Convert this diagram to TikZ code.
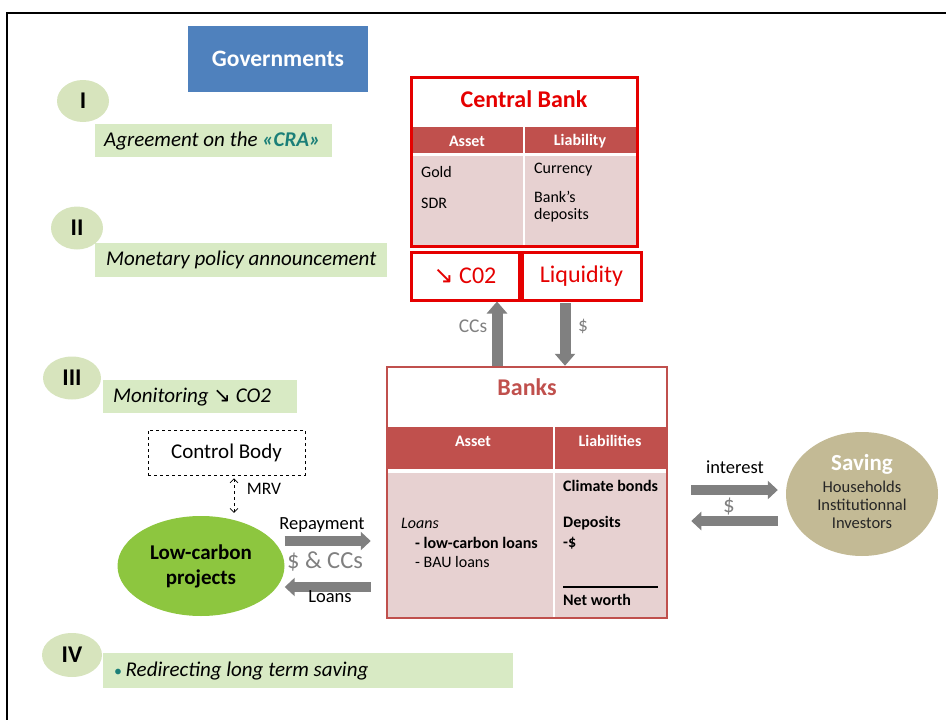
\documentclass[tikz,border=0pt]{standalone}
\usepackage{fontspec}
\setmainfont{Carlito}
\newfontfamily\symfont{DejaVu Sans}
\usetikzlibrary{arrows.meta,shapes.geometric}
\definecolor{govblue}{HTML}{4F81BD}
\definecolor{circgreen}{HTML}{D7E4BD}
\definecolor{boxgreen}{HTML}{D8EAC4}
\definecolor{tabred}{HTML}{C0504D}
\definecolor{tabpink}{HTML}{E7D1D1}
\definecolor{cbred}{HTML}{E50000}
\definecolor{arrgray}{HTML}{808080}
\definecolor{lcgreen}{HTML}{8DC63F}
\definecolor{savtan}{HTML}{C3BA95}
\definecolor{cratxt}{HTML}{1B7F78}
\newcommand\fsz[2]{\fontsize{#1}{#2}\selectfont}
\newcommand\dnarrow{{\symfont\char"2198}}
\begin{document}
\begin{tikzpicture}[x=1pt,y=-1pt,
  stagecirc/.style={ellipse, fill=circgreen, inner sep=0pt, font=\bfseries\fsz{24}{26}},
  stagebox/.style={fill=boxgreen, inner sep=0pt, anchor=north west},
  stagetxt/.style={anchor=west, inner sep=0pt, font=\itshape\fsz{21}{23}},
  redbox/.style={draw=cbred, line width=3pt, fill=white, inner sep=0pt, text=cbred, font=\fsz{24}{26}},
  headtxt/.style={text=white, font=\bfseries\fsz{16}{18}},
  bodytxt/.style={anchor=west, inner sep=0pt, font=\fsz{16}{18}},
  btxt/.style={anchor=west, inner sep=0pt, font=\bfseries\fsz{16}{18}},
  graylab/.style={text=arrgray, font=\fsz{19.5}{21}},
  blacklab/.style={font=\fsz{18.5}{20}},
  garrowv/.style={draw=arrgray, line width=11pt, -{Triangle[length=12pt,width=20pt]}},
  garrowh/.style={draw=arrgray, line width=10pt, -{Triangle[length=10pt,width=18pt]}}
]
\useasboundingbox (0,0) rectangle (946,720);
\draw[line width=2pt] (7,720) -- (7,13) -- (946,13);

% Governments
\node[fill=govblue, minimum width=180pt, minimum height=66pt, inner sep=0pt, text=white, font=\bfseries\fsz{23.5}{26}] (gov) at (278,59) {Governments};

% Stages
\node[stagebox, minimum width=237pt, minimum height=33pt] (s1) at (95,124) {};
\node[stagetxt] (s1t) at ([xshift=9pt]s1.west) {Agreement on the {\color{cratxt}\bfseries «CRA»}};
\node[stagecirc, minimum width=52pt, minimum height=42pt] (e1) at (83,101) {I};

\node[stagebox, minimum width=292pt, minimum height=34pt] (s2) at (95,243) {};
\node[stagetxt] (s2t) at ([xshift=11pt]s2.west) {Monetary policy announcement};
\node[stagecirc, minimum width=52pt, minimum height=43pt] (e2) at (77,228) {II};

\node[stagebox, minimum width=194pt, minimum height=33pt] (s3) at (103,380) {};
\node[stagetxt] (s3t) at ([xshift=10pt]s3.west) {Monitoring \dnarrow{} CO2};
\node[stagecirc, minimum width=58pt, minimum height=43pt] (e3) at (72,378) {III};

\node[stagebox, minimum width=410pt, minimum height=35pt] (s4) at (103,653) {};
\node[stagetxt] (s4t) at ([xshift=11pt]s4.west) {{\color{cratxt}\upshape\fsz{16}{18}\textbullet}\,Redirecting long term saving};
\node[stagecirc, minimum width=60pt, minimum height=44pt] (e4) at (72,655) {IV};

% Central Bank
\fill[tabred] (411,127) rectangle (637,153);
\fill[tabpink] (411,156) rectangle (637,246);
\draw[white, line width=1.5pt] (524,127) -- (524,246);
\node[draw=cbred, line width=3pt, inner sep=0pt, minimum width=226pt, minimum height=169pt] (cb) at (524,161.5) {};
\node[text=cbred, font=\bfseries\fsz{24}{26}] (cbt) at (524,99) {Central Bank};
\node[headtxt] (cbh1) at (467,141) {Asset};
\node[headtxt] (cbh2) at (580,141) {Liability};
\node[bodytxt] (gold) at (421,172) {Gold};
\node[bodytxt] (sdr) at (421,203) {SDR};
\node[bodytxt] (cur) at (534,170) {Currency};
\node[bodytxt] (bkd) at (534,197) {Bank’s};
\node[bodytxt] (dep) at (534,215) {deposits};

\node[redbox, minimum width=108pt, minimum height=48pt] (co2) at (465,276) {\dnarrow{} C02};
\node[redbox, minimum width=119pt, minimum height=48pt] (liq) at (581.5,276) {Liquidity};

% Banks
\fill[tabred] (387,427) rectangle (667,469);
\fill[tabpink] (387,473) rectangle (667,617);
\draw[white, line width=1.5pt] (554,427) -- (554,617);
\node[draw=tabred, line width=2.5pt, inner sep=0pt, minimum width=280pt, minimum height=251pt] (banks) at (527,492.5) {};
\node[text=tabred, font=\bfseries\fsz{24}{26}] (bkt) at (527,387) {Banks};
\node[headtxt] (bh1) at (473,441) {Asset};
\node[headtxt] (bh2) at (610,441) {Liabilities};
\node[btxt] (cbonds) at (563,486) {Climate bonds};
\node[btxt] (bdep) at (563,523) {Deposits};
\node[btxt] (bdol) at (563,543) {-\$};
\draw[line width=1.2pt] (563,587) -- (658,587);
\node[btxt] (nw) at (563,600) {Net worth};
\node[bodytxt, font=\itshape\fsz{16}{18}] (loans) at (401,523) {Loans};
\node[btxt] (lcl) at (415,543) {- low-carbon loans};
\node[bodytxt] (bau) at (415,562) {- BAU loans};

% arrows between CB and Banks
\coordinate (xccs) at (497,0);
\coordinate (xdol) at (565,0);
\draw[garrowv] (banks.north -| xccs) -- (co2.south -| xccs);
\draw[garrowv, shorten <=1.5pt] (liq.south -| xdol) -- (banks.north -| xdol);
\node[graylab] (ccsl) at (473,326) {CCs};
\node[graylab] (doll) at (583,326) {\$};

% Control body & projects
\node[draw, dashed, line width=0.8pt, inner sep=0pt, minimum width=157pt, minimum height=45pt, font=\fsz{21}{23}] (ctrl) at (226.5,452.5) {Control Body};
\node[ellipse, fill=lcgreen, inner sep=0pt, minimum width=167pt, minimum height=100pt, align=center, font=\bfseries\fsz{21}{25}] (lcp) at (201,566) {Low-carbon\\projects};
\coordinate (xmrv) at (234,0);
\draw[dashed, line width=0.7pt, {Straight Barb[length=4pt,width=8pt]}-{Straight Barb[length=4pt,width=8pt]}, shorten <=3pt, shorten >=3pt] (ctrl.south -| xmrv) -- (lcp.north -| xmrv);
\node[font=\fsz{17.5}{19}] (mrv) at (264,489) {MRV};

\coordinate (yrep) at (0,541);
\coordinate (yloan) at (0,587);
\draw[garrowh] (lcp.east |- yrep) -- ([xshift=-15pt]banks.west |- yrep);
\draw[garrowh] ([xshift=-15pt]banks.west |- yloan) -- (lcp.east |- yloan);
\node[blacklab] (repl) at (322,525) {Repayment};
\node[text=arrgray, font=\fsz{24.5}{26}] (dcc) at (325,561) {\$ \& CCs};
\node[blacklab] (loanl) at (330,597) {Loans};

% Saving
\node[ellipse, fill=savtan, inner sep=0pt, minimum width=152pt, minimum height=124pt] (sav) at (862,494) {};
\node[text=white, font=\bfseries\fsz{23}{25}] (savt) at (862,464) {Saving};
\node[font=\fsz{16.5}{18}, align=center, text=black!85] (savs) at (862,505) {Households\\Institutionnal\\Investors};
\coordinate (yint) at (0,490);
\coordinate (ydol) at (0,521);
\draw[garrowh] ([xshift=23pt]banks.east |- yint) -- ([xshift=-8pt]sav.west |- yint);
\draw[garrowh] ([xshift=-8pt]sav.west |- ydol) -- ([xshift=23pt]banks.east |- ydol);
\node[blacklab] (intl) at (735,467) {interest};
\node[text=arrgray, font=\fsz{23}{25}] (dol2) at (729,507) {\$};
\end{tikzpicture}
\end{document}
